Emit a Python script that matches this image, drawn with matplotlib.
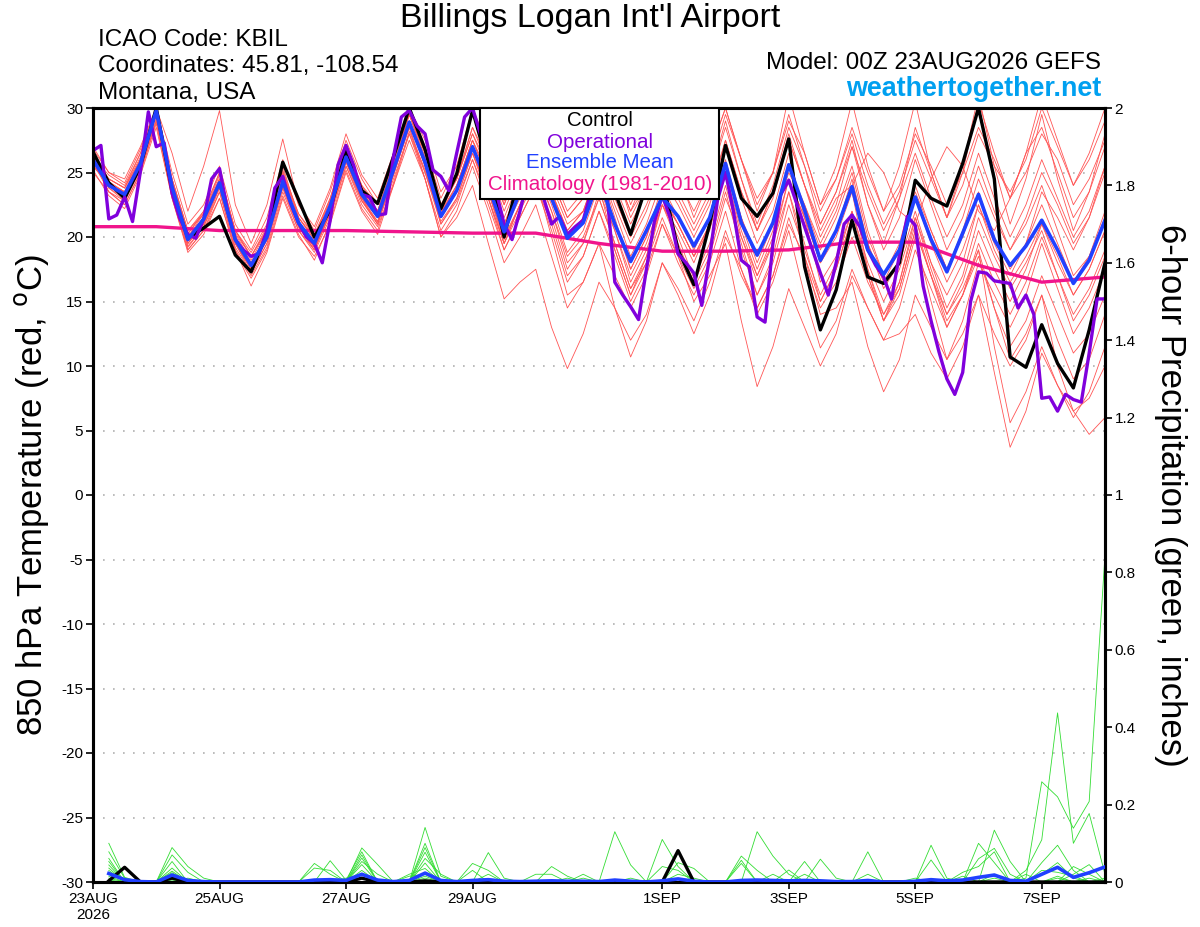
import numpy as np
import matplotlib
matplotlib.use("Agg")
import matplotlib.pyplot as plt
from matplotlib.patches import Rectangle

plt.rcParams['font.family'] = ['Liberation Sans', 'DejaVu Sans']
plt.rcParams['axes.unicode_minus'] = False

# forecast hours
hours6 = np.arange(0, 385, 6)
hours3 = np.arange(0, 385, 3)
hours24 = np.arange(0, 385, 24)

# 850 hPa temperature (C)
control = [26.6, 24.2, 23.0, 25.5, 30.0, 23.6, 19.9, 20.7, 21.6, 18.6, 17.3, 20.3, 25.8, 22.9, 20.0, 22.1,
           26.7, 23.6, 22.6, 26.2, 30.0, 26.8, 22.2, 24.9, 29.8, 25.5, 20.0, 25.0, 26.0, 25.0, 24.0, 26.0,
           25.0, 23.5, 20.2, 24.0, 24.5, 19.0, 16.3, 21.0, 27.1, 23.0, 21.6, 23.4, 27.6, 17.7, 12.8, 15.9,
           21.3, 16.9, 16.4, 18.0, 24.4, 23.0, 22.4, 25.7, 30.0, 24.5, 10.7, 9.9, 13.2, 10.2, 8.3, 12.8, 18.0]

ens_mean = [26.0, 24.0, 23.3, 25.7, 29.8, 23.9, 19.8, 21.4, 24.2, 19.8, 17.8, 20.0, 24.3, 21.1, 19.5, 22.4,
            26.2, 23.3, 21.6, 25.2, 28.9, 25.8, 21.6, 23.6, 27.0, 24.0, 20.4, 23.5, 25.0, 23.0, 19.9, 21.1,
            24.5, 21.0, 18.1, 20.5, 23.1, 21.6, 19.3, 21.5, 25.7, 21.1, 18.6, 21.1, 25.6, 22.1, 18.2, 20.5,
            23.9, 19.0, 17.1, 19.0, 23.1, 19.8, 17.3, 20.3, 23.3, 19.8, 17.8, 19.3, 21.3, 19.0, 16.4, 18.2, 21.3]

operational = [26.7, 27.1, 21.4, 21.7, 23.1, 21.2, 25.1, 29.7, 27.0, 27.3, 23.4, 21.4, 20.2, 19.9, 21.4, 24.5,
               25.3, 22.1, 19.8, 19.0, 18.5, 18.7, 20.5, 23.8, 24.7, 22.6, 21.1, 20.0, 19.5, 18.0, 21.3, 25.6,
               27.1, 25.5, 23.3, 23.1, 21.7, 21.8, 26.2, 29.3, 29.8, 28.6, 28.0, 25.2, 24.7, 23.6, 26.5, 29.3,
               30.0, 28.0, 26.0, 23.5, 21.0, 19.8, 22.0, 24.5, 25.5, 23.0, 21.0, 21.6, 20.2, 20.8, 21.3, 23.5,
               25.5, 23.5, 16.5, 15.5, 14.6, 13.6, 17.5, 21.2, 23.2, 21.5, 18.7, 18.0, 17.2, 14.7, 18.5, 22.9,
               25.0, 22.0, 18.2, 17.7, 13.8, 13.4, 19.5, 23.3, 24.4, 22.6, 20.8, 19.0, 17.2, 15.5, 18.0, 21.0,
               21.7, 20.8, 19.0, 17.8, 16.9, 15.2, 18.6, 21.6, 20.9, 16.2, 13.5, 11.1, 9.0, 7.8, 9.5, 15.0,
               17.3, 17.2, 16.6, 16.5, 16.4, 14.5, 15.5, 14.0, 7.5, 7.6, 6.5, 7.8, 7.4, 7.2, 11.0, 15.2, 15.2]

climo = [20.8, 20.8, 20.5, 20.5, 20.5, 20.4, 20.3, 20.3, 19.5, 18.9, 18.9, 19.0, 19.6, 19.6, 17.8, 16.5, 16.9]

members = [
    [25.5, 24.5, 23.8, 26.0, 29.5, 24.5, 20.5, 21.8, 24.8, 20.3, 18.5, 20.6, 25.0, 21.8, 20.2, 23.0, 27.0,
     24.0, 22.5, 26.3, 30.0, 26.8, 22.5, 24.5, 28.5, 26.0, 22.8, 25.5, 28.0, 26.0, 23.5, 24.5, 27.5, 25.0,
     22.0, 24.0, 27.5, 25.5, 23.0, 25.5, 29.5, 26.0, 23.0, 25.0, 29.0, 26.5, 22.5, 24.5, 28.5, 25.0, 22.0,
     24.0, 28.0, 25.5, 22.5, 25.0, 28.5, 26.0, 23.0, 25.0, 28.0, 26.0, 22.5, 24.5, 27.5],
    [25.0, 23.5, 22.5, 25.0, 28.8, 23.0, 19.0, 20.5, 23.0, 19.0, 17.0, 19.2, 23.5, 20.5, 18.8, 21.5, 25.5,
     22.5, 20.8, 24.0, 27.5, 24.5, 20.0, 21.5, 24.0, 19.5, 15.2, 16.5, 17.5, 13.0, 9.8, 12.5, 16.5, 14.5,
     12.0, 14.0, 18.0, 16.0, 13.5, 16.5, 20.5, 17.0, 14.5, 17.0, 21.5, 18.0, 14.5, 16.5, 20.0, 16.5, 14.0,
     16.0, 20.5, 17.0, 13.5, 15.5, 18.5, 14.5, 11.5, 13.5, 17.0, 14.0, 11.0, 12.5, 15.5],
    [26.5, 24.2, 23.5, 26.0, 30.0, 24.2, 19.5, 21.0, 23.8, 19.5, 17.5, 19.8, 24.0, 20.8, 19.2, 22.0, 25.8,
     23.0, 21.2, 25.0, 29.0, 25.5, 21.0, 23.0, 26.5, 23.5, 19.8, 22.5, 25.5, 22.5, 18.8, 20.5, 24.0, 20.5,
     16.5, 19.0, 22.5, 20.0, 16.8, 19.5, 24.0, 19.5, 15.5, 18.5, 23.5, 19.5, 15.0, 17.5, 21.5, 17.0, 13.5,
     15.5, 20.0, 15.0, 10.5, 12.5, 15.5, 9.5, 3.7, 6.5, 11.0, 8.5, 6.0, 8.0, 11.5],
    [26.2, 24.8, 24.0, 26.5, 29.8, 24.0, 20.2, 22.0, 25.0, 20.5, 18.8, 21.0, 25.5, 21.5, 19.8, 22.8, 26.5,
     23.8, 22.0, 25.5, 29.5, 26.0, 22.0, 24.0, 27.5, 24.5, 21.0, 24.0, 26.0, 23.5, 20.5, 22.0, 25.5, 22.0,
     18.5, 21.0, 24.5, 22.5, 20.0, 22.5, 27.0, 23.0, 19.5, 22.0, 26.5, 21.5, 16.5, 18.5, 22.0, 17.5, 14.0,
     16.5, 21.0, 17.0, 13.0, 15.5, 19.0, 14.5, 10.5, 12.5, 15.5, 10.0, 6.5, 4.7, 6.0],
    [27.0, 25.0, 24.2, 26.8, 30.0, 25.0, 21.0, 22.5, 25.5, 21.0, 19.0, 21.5, 26.0, 22.5, 20.8, 23.8, 28.0,
     24.8, 23.0, 26.5, 30.0, 27.5, 23.5, 25.5, 30.0, 27.0, 23.5, 26.0, 29.5, 27.0, 24.0, 25.0, 29.0, 25.5,
     21.5, 24.0, 28.5, 25.0, 21.5, 24.5, 29.0, 24.5, 20.5, 23.5, 28.0, 24.0, 20.0, 22.5, 27.0, 22.5, 19.5,
     23.0, 28.5, 25.0, 21.5, 25.0, 30.5, 26.5, 23.0, 26.5, 31.0, 27.5, 24.0, 26.5, 30.0],
    [25.8, 23.8, 23.0, 25.2, 29.0, 23.5, 19.2, 20.8, 23.5, 19.2, 17.2, 19.5, 23.8, 20.5, 19.0, 21.8, 25.5,
     22.8, 21.0, 24.5, 28.0, 25.0, 21.5, 23.5, 27.0, 23.0, 19.0, 21.5, 24.0, 21.0, 17.0, 18.5, 22.0, 19.0,
     15.5, 18.0, 22.5, 20.5, 18.0, 21.0, 25.0, 20.0, 16.5, 19.5, 24.5, 21.5, 18.0, 20.5, 24.5, 19.5, 16.0,
     18.0, 22.0, 18.0, 14.5, 17.0, 21.5, 18.5, 16.0, 18.0, 20.5, 17.0, 13.5, 15.5, 18.5],
    [26.0, 24.0, 23.0, 25.5, 29.5, 23.5, 19.5, 21.0, 24.0, 19.5, 17.5, 19.8, 24.5, 21.0, 19.5, 22.0, 26.0,
     22.8, 21.0, 24.8, 28.5, 24.5, 20.0, 22.0, 25.5, 22.0, 18.0, 20.0, 22.5, 18.5, 14.5, 16.5, 19.5, 14.5,
     10.7, 13.5, 18.0, 15.5, 12.5, 15.5, 20.0, 17.5, 14.5, 17.0, 21.0, 18.5, 15.0, 17.5, 21.5, 17.0, 13.5,
     16.0, 20.5, 17.0, 14.0, 16.5, 20.5, 17.5, 15.0, 17.5, 21.0, 18.5, 15.5, 17.5, 20.5],
    [26.3, 24.3, 23.5, 25.8, 29.5, 24.0, 20.0, 21.5, 24.5, 20.0, 18.0, 20.2, 24.5, 21.2, 19.6, 22.5, 26.5,
     23.5, 22.0, 25.5, 29.0, 25.5, 21.5, 23.5, 27.0, 24.0, 20.5, 23.0, 25.5, 22.0, 18.5, 20.0, 23.0, 19.5,
     16.0, 18.0, 21.5, 18.5, 15.0, 17.0, 19.5, 13.5, 8.4, 11.5, 16.0, 13.0, 10.0, 12.5, 17.0, 14.5, 12.0,
     14.5, 19.0, 16.0, 13.0, 15.5, 19.5, 16.5, 14.0, 16.5, 20.0, 17.0, 14.0, 16.0, 19.0],
    [25.5, 24.0, 23.5, 26.0, 29.8, 24.0, 20.0, 21.5, 24.2, 20.0, 18.0, 20.0, 24.0, 21.0, 19.2, 22.0, 26.0,
     23.0, 21.5, 25.0, 29.0, 26.0, 22.0, 24.5, 28.5, 25.5, 22.0, 25.0, 27.5, 25.0, 22.0, 23.5, 26.5, 24.0,
     21.0, 23.5, 27.0, 24.5, 22.0, 24.5, 28.5, 24.5, 21.0, 24.0, 28.5, 25.5, 22.0, 24.5, 28.0, 24.0, 21.0,
     23.5, 27.5, 24.5, 21.5, 24.0, 28.0, 25.5, 23.5, 26.0, 30.0, 27.0, 24.0, 26.0, 29.0],
    [26.0, 23.8, 22.8, 25.5, 30.0, 24.0, 19.5, 21.2, 24.0, 19.5, 17.5, 19.8, 24.0, 20.8, 19.0, 22.0, 26.0,
     23.0, 21.0, 25.0, 29.0, 25.8, 21.5, 23.5, 27.0, 24.5, 20.5, 23.5, 26.0, 23.5, 20.0, 21.5, 24.5, 21.0,
     17.5, 20.0, 23.5, 21.0, 18.5, 21.0, 25.0, 20.5, 17.0, 19.5, 23.5, 18.5, 14.0, 14.5, 16.5, 11.5, 8.0,
     10.5, 15.5, 13.0, 10.5, 13.5, 18.0, 15.5, 13.0, 15.5, 19.5, 16.0, 12.5, 14.5, 17.5],
    [26.5, 24.5, 23.8, 26.2, 29.8, 24.5, 20.3, 21.8, 24.5, 20.5, 18.5, 20.5, 25.0, 21.5, 20.0, 23.0, 27.0,
     24.0, 22.0, 25.8, 29.5, 26.5, 22.5, 24.5, 28.0, 25.0, 21.5, 24.5, 27.0, 24.5, 21.5, 23.0, 26.0, 23.0,
     20.0, 22.5, 25.5, 23.0, 20.5, 23.0, 27.5, 23.5, 20.5, 23.0, 27.5, 24.0, 20.5, 23.0, 24.0, 26.5, 25.0,
     22.0, 21.0, 24.5, 27.0, 25.5, 22.0, 20.5, 23.0, 26.5, 28.5, 25.0, 21.5, 23.5, 27.0],
    [25.8, 23.5, 22.5, 25.0, 29.0, 23.2, 19.0, 20.5, 23.5, 19.0, 16.2, 18.8, 23.0, 20.0, 18.5, 21.0, 25.0,
     22.0, 20.2, 24.0, 28.0, 24.5, 20.5, 22.5, 26.0, 22.5, 19.0, 21.5, 24.0, 20.5, 16.5, 18.5, 22.0, 18.5,
     15.0, 17.5, 21.0, 18.0, 15.5, 18.0, 22.0, 17.5, 14.0, 16.5, 20.5, 15.5, 11.4, 13.5, 17.5, 14.5, 12.0,
     12.5, 14.0, 11.0, 9.0, 11.5, 15.5, 12.5, 10.0, 12.0, 15.5, 12.0, 9.0, 10.5, 14.0],
    [26.8, 25.0, 24.5, 27.0, 30.0, 26.5, 22.0, 25.5, 29.8, 22.5, 19.5, 22.5, 27.6, 22.5, 20.5, 23.5, 27.5,
     24.5, 22.5, 26.0, 30.0, 27.0, 23.0, 25.5, 29.5, 26.5, 22.5, 26.0, 30.0, 27.5, 24.5, 26.0, 30.0, 26.5,
     22.5, 25.5, 30.0, 27.0, 23.5, 26.5, 30.0, 26.0, 22.0, 25.0, 31.0, 26.5, 22.5, 25.5, 30.5, 25.5, 22.0,
     25.5, 30.5, 25.0, 21.5, 25.5, 31.0, 25.5, 21.0, 24.5, 29.5, 24.5, 20.5, 23.5, 28.0],
    [25.2, 23.2, 22.2, 24.8, 28.5, 23.0, 18.8, 20.2, 23.0, 18.8, 16.8, 19.0, 23.2, 20.2, 18.2, 21.2, 25.2,
     22.2, 20.5, 24.2, 28.2, 25.2, 21.2, 23.0, 26.5, 23.5, 20.0, 22.5, 25.0, 22.0, 18.0, 19.5, 23.5, 20.5,
     17.0, 19.5, 23.0, 21.0, 18.5, 20.5, 25.5, 21.5, 18.5, 21.0, 25.0, 22.5, 19.5, 22.0, 25.5, 20.5, 17.0,
     19.0, 23.0, 19.5, 16.5, 19.0, 22.5, 19.0, 16.5, 18.5, 21.0, 18.0, 15.5, 17.5, 20.5],
    [26.0, 24.2, 23.5, 26.0, 30.0, 24.2, 20.0, 21.8, 24.5, 20.2, 18.2, 20.5, 24.8, 21.5, 19.8, 22.5, 26.5,
     23.5, 21.8, 25.5, 29.5, 26.5, 22.5, 24.5, 28.0, 25.5, 22.5, 25.5, 28.5, 26.0, 23.0, 24.5, 28.0, 25.0,
     22.0, 25.0, 29.5, 27.0, 24.5, 26.5, 30.0, 26.0, 22.5, 25.0, 29.5, 25.5, 21.0, 23.5, 27.5, 22.5, 19.0,
     21.5, 26.0, 22.5, 19.0, 21.5, 25.5, 22.0, 19.0, 21.0, 24.0, 20.5, 17.0, 18.5, 22.0],
    [26.2, 24.0, 23.2, 25.5, 29.5, 23.8, 19.8, 21.2, 24.0, 19.8, 17.8, 20.0, 24.2, 21.0, 19.2, 22.2, 26.0,
     23.2, 21.5, 25.0, 28.8, 25.5, 21.5, 23.5, 26.5, 23.0, 19.5, 22.0, 24.5, 21.5, 17.5, 19.5, 23.0, 19.5,
     16.0, 18.5, 22.5, 19.5, 16.5, 19.0, 23.5, 19.0, 15.5, 18.0, 22.5, 19.0, 15.5, 18.0, 22.0, 18.0, 15.0,
     17.5, 21.5, 17.5, 14.0, 16.0, 19.0, 11.5, 5.6, 8.0, 11.5, 8.5, 6.5, 7.5, 10.0],
    [26.0, 24.5, 23.8, 26.5, 30.0, 24.5, 20.5, 22.0, 25.0, 20.5, 18.5, 20.8, 25.2, 21.8, 20.0, 22.8, 26.8,
     23.8, 22.0, 25.5, 29.5, 26.2, 22.0, 23.5, 27.0, 23.5, 19.5, 22.5, 25.5, 23.5, 20.5, 22.0, 25.5, 21.5,
     17.5, 20.0, 24.0, 21.5, 19.0, 21.5, 26.0, 21.5, 18.0, 21.0, 25.5, 22.5, 19.0, 21.5, 25.0, 20.0, 17.0,
     19.5, 24.0, 20.5, 17.5, 20.5, 24.5, 21.5, 19.0, 21.5, 25.0, 22.5, 19.5, 21.5, 25.0],
    [26.0, 23.5, 22.8, 25.2, 29.2, 23.2, 19.3, 20.8, 23.8, 19.5, 17.2, 19.5, 23.8, 20.8, 19.0, 21.8, 25.8,
     22.8, 21.2, 24.8, 28.5, 25.0, 21.0, 22.8, 26.0, 23.0, 19.5, 22.5, 24.5, 20.0, 15.5, 16.5, 19.5, 17.0,
     14.5, 17.0, 21.0, 18.5, 16.0, 18.5, 23.0, 20.0, 17.0, 20.0, 24.5, 21.5, 18.0, 20.5, 24.0, 19.5, 16.5,
     19.0, 23.5, 20.5, 17.5, 20.0, 23.5, 20.0, 17.5, 19.5, 22.5, 19.5, 16.5, 18.5, 21.5],
    [25.5, 24.2, 23.2, 25.8, 29.5, 24.2, 20.0, 21.5, 24.3, 19.8, 17.8, 20.2, 24.2, 21.2, 19.5, 22.5, 26.2,
     23.5, 21.8, 25.2, 28.8, 25.8, 21.8, 24.0, 27.5, 25.0, 21.0, 24.0, 26.5, 24.0, 21.0, 22.0, 24.0, 19.0,
     15.5, 18.5, 23.0, 21.0, 18.5, 21.0, 25.5, 21.0, 17.5, 20.5, 25.5, 22.0, 18.0, 20.0, 23.5, 17.5, 13.5,
     16.5, 21.5, 18.0, 15.5, 18.0, 22.5, 19.5, 17.0, 19.5, 23.5, 21.5, 19.0, 21.5, 25.5],
    [26.3, 24.0, 23.3, 25.7, 29.8, 24.0, 19.8, 21.5, 24.2, 20.0, 17.8, 20.2, 24.5, 21.2, 19.5, 22.5, 26.5,
     23.5, 21.8, 25.5, 29.0, 26.0, 21.8, 24.0, 27.5, 24.5, 20.8, 24.0, 26.5, 24.5, 21.5, 23.0, 26.0, 22.5,
     19.5, 22.0, 25.5, 23.5, 21.0, 23.5, 27.5, 23.5, 20.5, 23.5, 27.5, 24.0, 21.0, 23.5, 27.0, 23.5, 20.5,
     23.0, 26.5, 23.0, 20.0, 22.5, 26.5, 23.0, 20.0, 22.5, 26.0, 23.0, 20.0, 22.0, 25.5],
]

# 6-hour precipitation (inches), steps 1..64
mean_precip = [0.022, 0.006, 0.001, 0.000, 0.018, 0.004, 0.001, 0.000, 0.000, 0.000, 0.000, 0.000, 0.000,
               0.005, 0.006, 0.004, 0.020, 0.005, 0.001, 0.004, 0.023, 0.004, 0.001, 0.004, 0.006, 0.002,
               0.001, 0.002, 0.003, 0.002, 0.002, 0.001, 0.005, 0.002, 0.000, 0.003, 0.008, 0.002, 0.000,
               0.000, 0.004, 0.005, 0.004, 0.003, 0.004, 0.003, 0.001, 0.001, 0.004, 0.000, 0.000, 0.002,
               0.006, 0.003, 0.005, 0.012, 0.018, 0.004, 0.002, 0.020, 0.038, 0.012, 0.024, 0.039]
control_precip = {1: 0.003, 2: 0.038, 5: 0.010, 17: 0.010, 21: 0.003, 37: 0.081}
member_precip = [
    {1: 0.100, 2: 0.012, 5: 0.053, 17: 0.062, 21: 0.141, 22: 0.015, 29: 0.040, 30: 0.015,
     59: 0.010, 60: 0.259, 61: 0.220, 62: 0.139, 63: 0.208, 64: 0.845},
    {1: 0.078, 2: 0.010, 5: 0.089, 6: 0.040, 7: 0.010, 17: 0.045, 21: 0.100, 25: 0.076, 26: 0.010,
     36: 0.110, 37: 0.040, 59: 0.030, 60: 0.109, 61: 0.437, 62: 0.100, 63: 0.177, 64: 0.020},
    {1: 0.061, 5: 0.070, 6: 0.025, 14: 0.048, 15: 0.020, 17: 0.088, 18: 0.045, 21: 0.089,
     33: 0.130, 34: 0.044, 57: 0.134, 58: 0.053},
    {1: 0.053, 5: 0.036, 15: 0.055, 16: 0.005, 17: 0.078, 21: 0.077, 24: 0.048, 25: 0.030,
     42: 0.130, 43: 0.067, 44: 0.020, 60: 0.050, 61: 0.095, 62: 0.030},
    {1: 0.044, 5: 0.028, 14: 0.036, 15: 0.030, 17: 0.070, 21: 0.061, 22: 0.020, 28: 0.020, 29: 0.020,
     41: 0.067, 42: 0.030, 49: 0.078, 56: 0.100, 57: 0.050, 62: 0.020, 63: 0.045},
    {1: 0.036, 5: 0.024, 17: 0.053, 18: 0.020, 21: 0.049, 25: 0.020, 31: 0.020, 37: 0.050, 38: 0.035,
     45: 0.053, 53: 0.095, 54: 0.010, 60: 0.020, 61: 0.050, 62: 0.010},
    {1: 0.030, 5: 0.020, 17: 0.030, 20: 0.020, 21: 0.035, 36: 0.040, 37: 0.030, 46: 0.059, 47: 0.010,
     53: 0.057, 56: 0.060, 57: 0.087, 58: 0.020},
    {1: 0.020, 2: 0.005, 5: 0.015, 20: 0.015, 21: 0.020, 24: 0.030, 30: 0.010, 41: 0.056, 43: 0.020,
     45: 0.020, 55: 0.025, 56: 0.040, 57: 0.078, 59: 0.020, 62: 0.040, 63: 0.020},
    {1: 0.015, 6: 0.010, 16: 0.010, 17: 0.020, 21: 0.015, 31: 0.010, 34: 0.010, 41: 0.048, 44: 0.031,
     52: 0.010, 60: 0.030, 61: 0.025, 62: 0.015},
    {1: 0.010, 5: 0.010, 21: 0.010, 37: 0.020, 38: 0.010, 49: 0.020, 55: 0.015, 57: 0.020, 61: 0.010},
    {5: 0.005, 17: 0.010, 42: 0.005, 57: 0.010, 63: 0.010},
    {1: 0.005, 21: 0.005, 53: 0.005, 61: 0.015, 64: 0.010},
]

tick_days = [0, 2, 4, 6, 9, 11, 13, 15]
tick_labels = ["23AUG\n2026", "25AUG", "27AUG", "29AUG", "1SEP", "3SEP", "5SEP", "7SEP"]

red = '#ff5555'
green = '#33dd33'
purple = '#8000dc'
blue = '#2040ff'
magenta = '#f0148c'

fig = plt.figure(figsize=(12, 9.27), dpi=100)
ax = fig.add_axes([93 / 1200, 45 / 927, 1012 / 1200, 774 / 927])
ax2 = ax.twinx()

d6 = hours6 / 24.0
for m in members:
    ax.plot(d6, m, color=red, lw=0.6, zorder=2)
ax.plot(hours24 / 24.0, climo, color=magenta, lw=2.4, zorder=3)
ax.plot(d6, control, color='black', lw=2.4, zorder=4)
ax.plot(hours3 / 24.0, operational, color=purple, lw=2.4, zorder=5)
ax.plot(d6, ens_mean, color=blue, lw=2.6, zorder=6)

pd = hours6[1:] / 24.0
for spikes in member_precip:
    vals = [spikes.get(i, 0.0) for i in range(1, 65)]
    ax2.plot(pd, vals, color=green, lw=0.6, zorder=2)
ax2.plot(pd, [control_precip.get(i, 0.0) for i in range(1, 65)], color='black', lw=2.4, zorder=4)
ax2.plot(pd, mean_precip, color=blue, lw=2.6, zorder=6)

ax.set_xlim(0, 16)
ax.set_ylim(-30, 30)
ax2.set_ylim(0, 2)
ax.set_yticks(range(-30, 31, 5))
ax.set_yticklabels([str(v) for v in range(-30, 31, 5)])
ax2.set_yticks([v / 10 for v in range(0, 21, 2)])
ax2.set_yticklabels([f"{v / 10:g}" for v in range(0, 21, 2)])
ax.set_xticks(tick_days)
ax.set_xticklabels(tick_labels)

for v in range(-25, 30, 5):
    ax.axhline(v, color='#b0b0b0', lw=1.2, ls=(0, (1, 5)), zorder=1)

for a in (ax, ax2):
    for s in a.spines.values():
        s.set_linewidth(2.2)
    a.tick_params(direction='out', length=5, width=1.2, labelsize=11, pad=2)

# legend box
fig.add_artist(Rectangle((480 / 1200, 1 - 199 / 927), 239 / 1200, 91 / 927, transform=fig.transFigure,
                         facecolor='white', edgecolor='black', lw=1.5, zorder=10))
for txt, col, y in [("Control", 'black', 121), ("Operational", purple, 142),
                    ("Ensemble Mean", blue, 163), ("Climatology (1981-2010)", magenta, 185)]:
    fig.text(600 / 1200, 1 - y / 927, txt, color=col, fontsize=14.8, ha='center', va='center', zorder=11)

fig.text(590 / 1200, 1 - 18 / 927, "Billings Logan Int'l Airport", fontsize=24.5, ha='center', va='center')
fig.text(98 / 1200, 1 - 40 / 927, "ICAO Code: KBIL", fontsize=17.5, ha='left', va='center')
fig.text(98 / 1200, 1 - 66 / 927, "Coordinates: 45.81, -108.54", fontsize=17.5, ha='left', va='center')
fig.text(98 / 1200, 1 - 93 / 927, "Montana, USA", fontsize=17.5, ha='left', va='center')
fig.text(1101 / 1200, 1 - 63 / 927, "Model: 00Z 23AUG2026 GEFS", fontsize=17.5, ha='right', va='center')
fig.text(1101 / 1200, 1 - 89 / 927, "weathertogether.net", fontsize=19.4, fontweight='bold',
         color='#00a0f0', ha='right', va='center')
fig.text(32 / 1200, 1 - 495 / 927, r"850 hPa Temperature (red, $^{\mathrm{o}}$C)", fontsize=25,
         rotation=90, ha='center', va='center')
fig.text(1170 / 1200, 1 - 495 / 927, "6-hour Precipitation (green, inches)", fontsize=25,
         rotation=270, ha='center', va='center')

fig.savefig("out.png", dpi=100)
